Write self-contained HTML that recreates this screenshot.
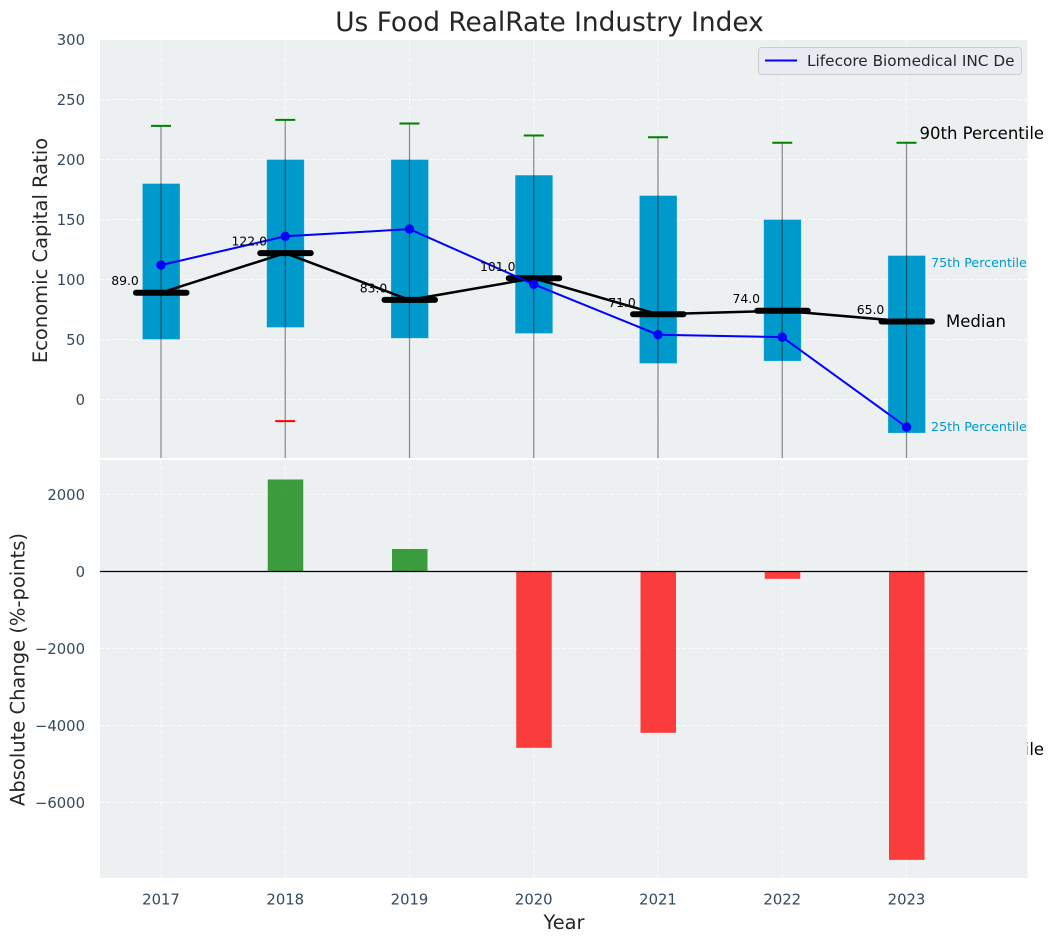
<!DOCTYPE html>
<html>
<head>
<meta charset="utf-8">
<title>Us Food RealRate Industry Index</title>
<style>
html,body{margin:0;padding:0;background:#fff;}
svg{display:block;font-family:"DejaVu Sans","Liberation Sans",sans-serif;}
</style>
</head>
<body>
<svg id="chart" width="1054" height="942" viewBox="0 0 1054 942" xmlns="http://www.w3.org/2000/svg">
  <defs>
    <clipPath id="clip-top"><rect x="100" y="40" width="927.5" height="418"></rect></clipPath>
    <clipPath id="clip-bottom"><rect x="100" y="460" width="927.5" height="418"></rect></clipPath>
  </defs>
  <rect x="0" y="0" width="1054" height="942" fill="#ffffff"></rect>
  <text x="549.5" y="31" text-anchor="middle" font-size="26.4" fill="#262626">Us Food RealRate Industry Index</text>
  <g id="top-panel"></g>
  <g id="bottom-panel"></g>
  <text transform="translate(47,250.5) rotate(-90)" text-anchor="middle" font-size="19.5" fill="#262626">Economic Capital Ratio</text>
  <text transform="translate(24.5,669.5) rotate(-90)" text-anchor="middle" font-size="19.5" fill="#262626">Absolute Change (%-points)</text>
  <text x="564" y="929" text-anchor="middle" font-size="19.4" fill="#262626">Year</text>
  <g>
    <rect x="758.5" y="47.5" width="263" height="27" rx="3" fill="#eaeaf2" fill-opacity="0.8" stroke="#cccccc"></rect>
    <line x1="765" y1="60.5" x2="797" y2="60.5" stroke="#0000ff" stroke-width="2"></line>
    <text x="807" y="66" font-size="15.3" fill="#262626">Lifecore Biomedical INC De</text>
  </g>
</svg>
<script>
const years = [2017, 2018, 2019, 2020, 2021, 2022, 2023];
const q1Values = [50, 60, 51, 55, 30, 32, -28];
const q3Values = [180, 200, 200, 187, 170, 150, 120];
const medianValues = [89, 122, 83, 101, 71, 74, 65];
const p90Values = [228, 233, 230, 220, 218.5, 214, 214];
const p10Values = [-120, -18, -150, -200, -220, -240, -299];
const whiskerLowValues = [-120, -110, -150, -200, -220, -240, -299];
const companyValues = [112, 136, 142, 96, 54, 52, -23];
const changeValues = [null, 2390, 585, -4580, -4190, -190, -7490];
const ratioTicks = [0, 50, 100, 150, 200, 250, 300];
const changeTicks = [-6000, -4000, -2000, 0, 2000];

const NS = 'http://www.w3.org/2000/svg';
const xScale = v => 161 + (v - 2017) * 124.25;
const yTop = v => 399.5 - v * 1.2;
const yBottom = v => 571.5 - v * 0.0385;

function add(parent, tag, attrs, content) {
  const node = document.createElementNS(NS, tag);
  for (const k in attrs) node.setAttribute(k, attrs[k]);
  if (content !== undefined) node.textContent = content;
  parent.appendChild(node);
  return node;
}
const fmtTick = v => (v < 0 ? '\u2212' + Math.abs(v) : String(v));
const gridStyle = {stroke: '#ffffff', 'stroke-width': 1, 'stroke-dasharray': '4 2', 'stroke-opacity': 0.75};

const topPanel = document.getElementById('top-panel');
const bottomPanel = document.getElementById('bottom-panel');

/* ---------- top panel ---------- */
const topBg = add(topPanel, 'rect', {x: 100, y: 40, width: 927.5, height: 418, fill: '#ecf0f1'});



ratioTicks.forEach(t => {
  const g = add(topPanel, 'line', Object.assign({x1: 100, x2: 1027.5, y1: yTop(t), y2: yTop(t)}, gridStyle));
  
  
  const l = add(topPanel, 'text', {x: 85, y: yTop(t) + 5.5, 'text-anchor': 'end', 'font-size': 14.8, fill: '#34495e'}, fmtTick(t));
  
  
});

const topClip = add(topPanel, 'g', {'clip-path': 'url(#clip-top)'});



years.forEach(y => {
  const g = add(topClip, 'line', Object.assign({x1: xScale(y), x2: xScale(y), y1: 40, y2: 458}, gridStyle));
  
  
});

years.forEach((y, i) => {
  const b = add(topClip, 'rect', {x: xScale(y) - 18.6, y: yTop(q3Values[i]), width: 37.6, height: yTop(q1Values[i]) - yTop(q3Values[i]), fill: '#0099cc', stroke: '#ffffff', 'stroke-opacity': 0.35, 'stroke-width': 0.8});
  
  
});

years.forEach((y, i) => {
  const w = add(topClip, 'line', {x1: xScale(y), x2: xScale(y), y1: yTop(p90Values[i]), y2: yTop(whiskerLowValues[i]), stroke: '#000000', 'stroke-opacity': 0.45, 'stroke-width': 1.2});
  
  
  const c = add(topClip, 'line', {x1: xScale(y) - 10, x2: xScale(y) + 10, y1: yTop(p90Values[i]), y2: yTop(p90Values[i]), stroke: '#008000', 'stroke-width': 2});
  
  
  const r = add(topClip, 'line', {x1: xScale(y) - 10, x2: xScale(y) + 10, y1: yTop(p10Values[i]), y2: yTop(p10Values[i]), stroke: '#ff0000', 'stroke-width': 2});
  
  
});

const medianLine = add(topClip, 'polyline', {points: years.map((y, i) => xScale(y) + ',' + yTop(medianValues[i])).join(' '), fill: 'none', stroke: '#000000', 'stroke-width': 2.5});



years.forEach((y, i) => {
  const m = add(topClip, 'line', {x1: xScale(y) - 25, x2: xScale(y) + 25.5, y1: yTop(medianValues[i]), y2: yTop(medianValues[i]), stroke: '#000000', 'stroke-width': 6, 'stroke-linecap': 'round'});
  
  
});

const companyLine = add(topClip, 'polyline', {points: years.map((y, i) => xScale(y) + ',' + yTop(companyValues[i])).join(' '), fill: 'none', stroke: '#0000ff', 'stroke-width': 2});



years.forEach((y, i) => {
  const p = add(topClip, 'circle', {cx: xScale(y), cy: yTop(companyValues[i]), r: 4.7, fill: '#0000ff'});
  
  
});

years.forEach((y, i) => {
  const t = add(topPanel, 'text', {x: xScale(y) - 36, y: yTop(medianValues[i]) - 7.5, 'text-anchor': 'middle', 'font-size': 12.4, fill: '#000000'}, medianValues[i].toFixed(1));
  
  
});

const last = years.length - 1;
const lastX = xScale(years[last]);
const p90Label = add(topPanel, 'text', {x: lastX + 13, y: yTop(p90Values[last]) - 3.5, 'font-size': 16.5, fill: '#000000'}, '90th Percentile');


const q3Label = add(topPanel, 'text', {x: lastX + 24.5, y: yTop(q3Values[last]) + 11.5, 'font-size': 12.7, fill: '#0099cc'}, '75th Percentile');


const medLabel = add(topPanel, 'text', {x: lastX + 39.5, y: yTop(medianValues[last]) + 5.5, 'font-size': 16.5, fill: '#000000'}, 'Median');


const q1Label = add(topPanel, 'text', {x: lastX + 24.5, y: yTop(q1Values[last]) - 2, 'font-size': 12.7, fill: '#0099cc'}, '25th Percentile');


const p10Label = add(topPanel, 'text', {x: lastX + 13, y: yTop(p10Values[last]) - 3.5, 'font-size': 16.5, fill: '#000000'}, '10th Percentile');



/* ---------- bottom panel ---------- */
const bottomBg = add(bottomPanel, 'rect', {x: 100, y: 460, width: 927.5, height: 418, fill: '#ecf0f1'});



changeTicks.forEach(t => {
  const g = add(bottomPanel, 'line', Object.assign({x1: 100, x2: 1027.5, y1: yBottom(t), y2: yBottom(t)}, gridStyle));
  
  
  const l = add(bottomPanel, 'text', {x: 85, y: yBottom(t) + 5.5, 'text-anchor': 'end', 'font-size': 14.8, fill: '#34495e'}, fmtTick(t));
  
  
});

years.forEach((y, i) => {
  const g = add(bottomPanel, 'line', Object.assign({x1: xScale(y), x2: xScale(y), y1: 460, y2: 878}, gridStyle));
  
  
  const l = add(bottomPanel, 'text', {x: xScale(y), y: 904.5, 'text-anchor': 'middle', 'font-size': 14.8, fill: '#34495e'}, String(y));
  
  
  const v = changeValues[i];
  if (v !== null) {
    const b = add(bottomPanel, 'rect', {x: xScale(y) - 17.5, y: Math.min(yBottom(v), yBottom(0)), width: 35.5, height: Math.abs(yBottom(v) - yBottom(0)), fill: v >= 0 ? '#008000' : '#ff0000', 'fill-opacity': 0.75});
    
    
  }
});

const zeroLine = add(bottomPanel, 'line', {x1: 100, x2: 1027.5, y1: yBottom(0), y2: yBottom(0), stroke: '#000000', 'stroke-width': 1.2});


</script>
</body>
</html>
